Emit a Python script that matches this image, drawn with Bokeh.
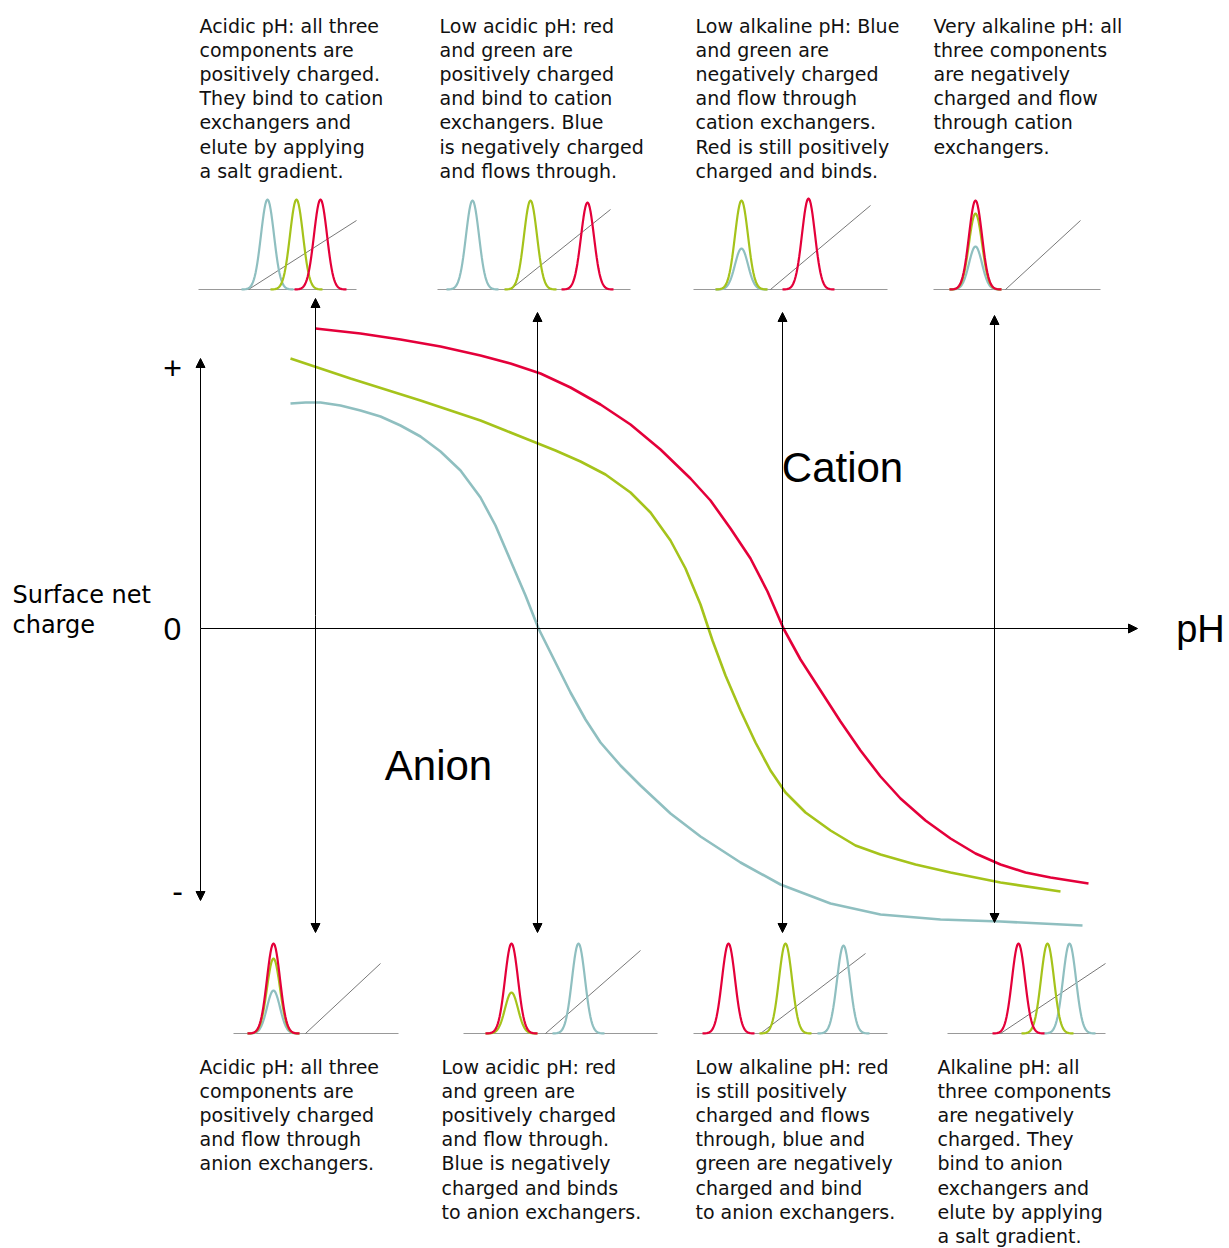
import numpy as np
from bokeh.plotting import figure
from bokeh.models import Range1d, Arrow, NormalHead
from bokeh.core.properties import value
from bokeh.embed import file_html
from bokeh.resources import INLINE

RED = "#e4003a"
GREEN = "#a5c31b"
BLUE = "#8fbfc0"
FONT = "DejaVu Sans"

# charge curves (x = pH position, y = charge position, picture units)
red_x = [315, 360, 400, 440, 480, 510, 540, 570, 600, 630, 660, 690, 710, 730, 750, 767, 783, 800, 820, 840, 860, 880, 900, 925, 950, 975, 1000, 1025, 1050, 1088]
red_y = [328, 333, 339, 346, 355, 363, 373, 387, 404, 424, 449, 478, 500, 528, 558, 591, 628, 659, 690, 721, 750, 776, 798, 820, 838, 853, 864, 872, 877, 883]
green_x = [290, 320, 350, 385, 420, 450, 480, 505, 530, 555, 580, 605, 630, 650, 670, 685, 700, 712, 725, 740, 755, 770, 785, 805, 830, 855, 880, 915, 950, 1000, 1060]
green_y = [358, 368, 378, 389, 400, 410, 420, 430, 440, 450, 461, 474, 492, 512, 540, 568, 604, 640, 675, 710, 742, 770, 792, 812, 830, 845, 854, 864, 872, 882, 891]
blue_x = [290, 305, 320, 340, 360, 380, 400, 420, 440, 460, 480, 495, 510, 525, 538, 555, 570, 585, 600, 620, 640, 670, 700, 740, 780, 830, 880, 940, 1000, 1082]
blue_y = [403, 402, 402, 405, 410, 416, 425, 436, 451, 470, 497, 525, 560, 595, 628, 662, 692, 719, 742, 765, 785, 813, 836, 862, 884, 903, 914, 919, 921, 925]

# vertical arrows: x, top, bottom
arrow_x = [315, 537, 782, 994]
arrow_top = [298, 312, 312, 315]
arrow_bottom = [932, 932, 932, 922]

# mini chromatograms: baseline (y, x0, x1), gradient line, peaks (x, top) for red/green/blue
chroms = [
    dict(y=289, x0=198, x1=356, grad=(248, 356, 220), red=(320, 199), green=(296, 199), blue=(267, 199)),
    dict(y=289, x0=437, x1=630, grad=(510, 610, 209), red=(587, 202), green=(530, 200), blue=(472, 200)),
    dict(y=289, x0=693, x1=887, grad=(770, 870, 205), red=(808, 198), green=(741, 200), blue=(741, 248)),
    dict(y=289, x0=933, x1=1100, grad=(1005, 1080, 220), red=(975, 200), green=(975, 213), blue=(975, 246)),
    dict(y=1033, x0=233, x1=398, grad=(305, 380, 963), red=(273, 943), green=(273, 958), blue=(273, 990)),
    dict(y=1033, x0=463, x1=657, grad=(545, 640, 950), red=(511, 943), green=(511, 992), blue=(578, 943)),
    dict(y=1033, x0=693, x1=887, grad=(760, 865, 953), red=(728, 943), green=(785, 943), blue=(843, 945)),
    dict(y=1033, x0=947, x1=1105, grad=(1000, 1105, 963), red=(1018, 943), green=(1047, 943), blue=(1069, 943)),
]
peak_sigma = 6.5

top_texts = [
    "Acidic pH: all three\ncomponents are\npositively charged.\nThey bind to cation\nexchangers and\nelute by applying\na salt gradient.",
    "Low acidic pH: red\nand green are\npositively charged\nand bind to cation\nexchangers. Blue\nis negatively charged\nand flows through.",
    "Low alkaline pH: Blue\nand green are\nnegatively charged\nand flow through\ncation exchangers.\nRed is still positively\ncharged and binds.",
    "Very alkaline pH: all\nthree components\nare negatively\ncharged and flow\nthrough cation\nexchangers.",
]
top_text_x = [199, 439, 695, 933]
bottom_texts = [
    "Acidic pH: all three\ncomponents are\npositively charged\nand flow through\nanion exchangers.",
    "Low acidic pH: red\nand green are\npositively charged\nand flow through.\nBlue is negatively\ncharged and binds\nto anion exchangers.",
    "Low alkaline pH: red\nis still positively\ncharged and flows\nthrough, blue and\ngreen are negatively\ncharged and bind\nto anion exchangers.",
    "Alkaline pH: all\nthree components\nare negatively\ncharged. They\nbind to anion\nexchangers and\nelute by applying\na salt gradient.",
]
bottom_text_x = [199, 441, 695, 937]

p = figure(width=1229, height=1248, x_range=Range1d(0, 1229), y_range=Range1d(1248, 0),
           output_backend="svg", toolbar_location=None, min_border=0)
p.axis.visible = False
p.grid.visible = False
p.outline_line_color = None


def head():
    return NormalHead(size=9, fill_color="black", line_color="black")


# axes
p.add_layout(Arrow(x_start=200, y_start=628, x_end=1137, y_end=628, line_width=1, end=head()))
p.add_layout(Arrow(x_start=200, y_start=628, x_end=200, y_end=358, line_width=1, end=head()))
p.add_layout(Arrow(x_start=200, y_start=628, x_end=200, y_end=900, line_width=1, end=head()))
for x, t, b in zip(arrow_x, arrow_top, arrow_bottom):
    p.add_layout(Arrow(x_start=x, y_start=(t + b) / 2, x_end=x, y_end=t, line_width=1, end=head()))
    p.add_layout(Arrow(x_start=x, y_start=(t + b) / 2, x_end=x, y_end=b, line_width=1, end=head()))

p.line(blue_x, blue_y, line_color=BLUE, line_width=2.6)
p.line(green_x, green_y, line_color=GREEN, line_width=2.6)
p.line(red_x, red_y, line_color=RED, line_width=2.6)

for c in chroms:
    base = c["y"]
    p.line([c["x0"], c["x1"]], [base, base], line_color="#999999", line_width=1)
    gx0, gx1, gy1 = c["grad"]
    p.line([gx0, gx1], [base, gy1], line_color="#555555", line_width=0.8)
    for key, col in (("blue", BLUE), ("green", GREEN), ("red", RED)):
        px, ptop = c[key]
        xs = np.linspace(px - 4 * peak_sigma, px + 4 * peak_sigma, 60)
        ys = base - (base - ptop) * np.exp(-0.5 * ((xs - px) / peak_sigma) ** 2)
        p.line(xs, ys, line_color=col, line_width=2.2)

p.text(top_text_x, [14] * 4, text=top_texts, text_font=value(FONT), text_font_size="19px",
       text_baseline="top", text_line_height=1.1, text_color="#111111")
p.text(bottom_text_x, [1055] * 4, text=bottom_texts, text_font=value(FONT), text_font_size="19px",
       text_baseline="top", text_line_height=1.1, text_color="#111111")

p.text([172, 172, 177], [367, 628, 890], text=["+", "0", "-"], text_font=value("Liberation Sans"),
       text_font_size="32px", text_align="center", text_baseline="middle")
p.text([1200], [628], text=["pH"], text_font=value("Liberation Sans"), text_font_size="38px",
       text_align="center", text_baseline="middle")
p.text([12], [580], text=["Surface net\ncharge"], text_font=value(FONT), text_font_size="24px",
       text_baseline="top", text_line_height=1.1)
p.text([842, 438], [467, 765], text=["Cation", "Anion"], text_font=value("Liberation Sans"),
       text_font_size="42px", text_align="center", text_baseline="middle")

open("out.html", "w").write(file_html(p, INLINE))
